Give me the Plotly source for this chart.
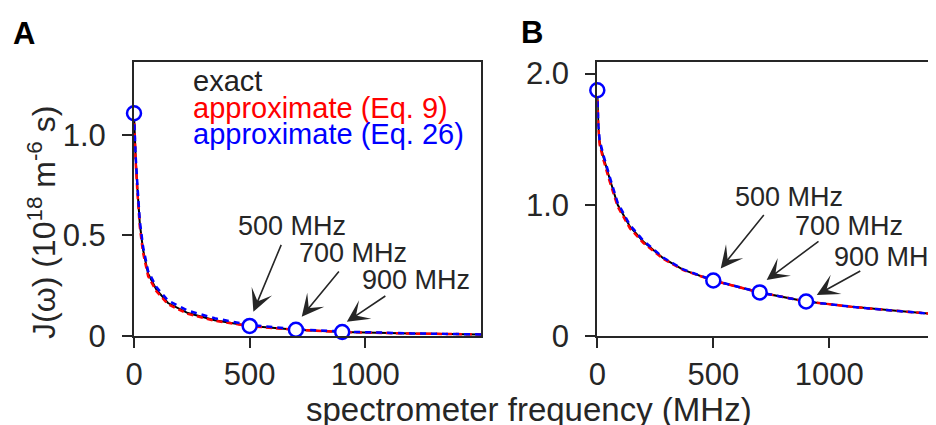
import plotly.graph_objects as go
from plotly.subplots import make_subplots

# ---- data ----
freq_a = [0, 3, 7, 15, 25, 39, 61, 97, 147, 233, 349, 500, 700, 900, 1200, 1500]
exact_a = [1.108, 0.98, 0.89, 0.73, 0.56, 0.43, 0.31, 0.23, 0.164, 0.114, 0.078, 0.05, 0.031, 0.02, 0.012, 0.008]
eq9_a = [1.108, 0.97, 0.87, 0.71, 0.545, 0.415, 0.298, 0.222, 0.158, 0.11, 0.076, 0.049, 0.031, 0.02, 0.012, 0.008]
eq26_a = [1.108, 0.99, 0.90, 0.745, 0.575, 0.445, 0.323, 0.243, 0.176, 0.126, 0.088, 0.055, 0.034, 0.022, 0.013, 0.008]

freq_b = [0, 2, 4.5, 10, 26, 55, 88, 141, 198, 284, 371, 500, 700, 900, 1100, 1300, 1460]
exact_b = [1.873, 1.70, 1.594, 1.48, 1.366, 1.189, 1.0, 0.833, 0.72, 0.593, 0.504, 0.423, 0.332, 0.263, 0.222, 0.19, 0.167]
eq9_b = [1.873, 1.68, 1.575, 1.46, 1.345, 1.168, 0.985, 0.82, 0.71, 0.588, 0.502, 0.422, 0.332, 0.263, 0.222, 0.19, 0.167]
eq26_b = [1.873, 1.71, 1.605, 1.495, 1.38, 1.205, 1.015, 0.845, 0.728, 0.598, 0.507, 0.424, 0.332, 0.263, 0.222, 0.19, 0.167]

mark_freq = [0, 500, 700, 900]
mark_a = [1.108, 0.05, 0.031, 0.02]
mark_b = [1.873, 0.423, 0.332, 0.263]

labels = ["500 MHz", "700 MHz", "900 MHz"]
# text centres, arrow tails and tips (data units)
txt_a = [(683, 0.547), (947, 0.413), (1219, 0.279)]
tail_a = [(639, 0.461), (891, 0.328), (1093, 0.204)]
tip_a = [(516, 0.121), (725, 0.096), (920, 0.071)]
txt_b = [(826, 1.057), (1085, 0.837), (1253, 0.603)]
tail_b = [(723, 0.933), (960, 0.730), (1140, 0.502)]
tip_b = [(532, 0.515), (730, 0.426), (946, 0.312)]

legend_items = ["exact", "approximate (Eq. 9)", "approximate (Eq. 26)"]
legend_colors = ["#222222", "#ff0000", "#0000ff"]

xticks = [0, 500, 1000]
xticklabels = ["0", "500", "1000"]
yticks_a = [0, 0.5, 1.0]
yticklabels_a = ["0", "0.5", "1.0"]
yticks_b = [0, 1.0, 2.0]
yticklabels_b = ["0", "1.0", "2.0"]

FONT = "Liberation Sans, Arial, sans-serif"
AX = "#262626"

# page body has an 8 px margin: work in viewport pixels, shift into figure pixels
OFF = 8
W, H = 936 - OFF, 425 - OFF
L = 134 - OFF
T = 62 - OFF
BOT = 336 - OFF
B = H - BOT
PW = W - L
PH = H - T - B

fig = make_subplots(rows=1, cols=2)
for col, fr, ex, e9, e26, my in [(1, freq_a, exact_a, eq9_a, eq26_a, mark_a),
                                  (2, freq_b, exact_b, eq9_b, eq26_b, mark_b)]:
    fig.add_trace(go.Scatter(x=fr, y=ex, mode="lines", line=dict(color="black", width=2),
                             showlegend=False), row=1, col=col)
    fig.add_trace(go.Scatter(x=fr, y=e9, mode="lines",
                             line=dict(color="#ff0000", width=2.5, dash="6px,4px"),
                             showlegend=False), row=1, col=col)
    fig.add_trace(go.Scatter(x=fr, y=e26, mode="lines",
                             line=dict(color="#0000ff", width=2.5, dash="6px,5px"),
                             showlegend=False), row=1, col=col)
    fig.add_trace(go.Scatter(x=mark_freq, y=my, mode="markers",
                             marker=dict(symbol="circle", size=14, color="white",
                                         line=dict(color="#0000ff", width=2.5)),
                             cliponaxis=False, showlegend=False), row=1, col=col)

axis_common = dict(showline=True, linecolor=AX, linewidth=2, ticks="outside", ticklen=10,
                   tickwidth=2, tickcolor=AX, showgrid=False, zeroline=False,
                   tickfont=dict(family=FONT, size=31, color=AX))
fig.update_xaxes(**axis_common, tickvals=xticks, ticktext=xticklabels, mirror=True)
fig.update_xaxes(range=[0, 1500], domain=[0, (481 - OFF - L) / PW], row=1, col=1)
fig.update_xaxes(range=[0, 1460], domain=[(597.3 - OFF - L) / PW, 1], row=1, col=2)
fig.update_yaxes(**axis_common, ticklabelstandoff=10)
fig.update_yaxes(range=[0, 1.363], tickvals=yticks_a, ticktext=yticklabels_a, mirror=True,
                 row=1, col=1)
fig.update_yaxes(range=[0, 2.088], tickvals=yticks_b, ticktext=yticklabels_b, mirror=False,
                 row=1, col=2)

ann = []
for xr, yr, txt, tail, tip in [("x", "y", txt_a, tail_a, tip_a), ("x2", "y2", txt_b, tail_b, tip_b)]:
    for lab, (tx, ty), (ax_, ay_), (px, py) in zip(labels, txt, tail, tip):
        ann.append(dict(x=tx, y=ty, xref=xr, yref=yr, text=lab, showarrow=False,
                        xanchor="center", yanchor="middle",
                        font=dict(family=FONT, size=27, color=AX)))
        ann.append(dict(x=px, y=py, xref=xr, yref=yr, ax=ax_, ay=ay_, axref=xr, ayref=yr,
                        text="", showarrow=True, arrowhead=3, arrowsize=2.3, arrowwidth=1.6,
                        arrowcolor=AX, standoff=0, startstandoff=0))


def vx(p):
    """viewport x pixel -> paper x"""
    return (p - OFF - L) / PW


def vy(p):
    """viewport y pixel -> paper y"""
    return (BOT - (p - OFF)) / PH


for i, (t, c) in enumerate(zip(legend_items, legend_colors)):
    ann.append(dict(x=vx(191), y=vy(81 + 26.5 * i), xref="paper", yref="paper",
                    xanchor="left", yanchor="middle", text=t, showarrow=False,
                    font=dict(family=FONT, size=29, color=c)))

ann.append(dict(x=vx(24), y=vy(34), xref="paper", yref="paper", text="<b>A</b>",
                xanchor="center", yanchor="middle",
                showarrow=False, font=dict(family=FONT, size=31, color="black")))
ann.append(dict(x=vx(532), y=vy(32), xref="paper", yref="paper", text="<b>B</b>",
                xanchor="center", yanchor="middle",
                showarrow=False, font=dict(family=FONT, size=31, color="black")))
ann.append(dict(x=vx(529), y=vy(409), xref="paper", yref="paper",
                xanchor="center", yanchor="middle",
                text="spectrometer frequency (MHz)", showarrow=False,
                font=dict(family=FONT, size=33, color=AX)))
ann.append(dict(x=vx(42), y=vy(223), xref="paper", yref="paper",
                xanchor="center", yanchor="middle",
                text="J(ω) (10<sup>18</sup> m<sup>-6</sup> s)", textangle=-90, showarrow=False,
                font=dict(family=FONT, size=32, color=AX)))

fig.update_layout(width=W, height=H, margin=dict(l=L, r=0, t=T, b=B),
                  plot_bgcolor="white", paper_bgcolor="white", annotations=ann,
                  showlegend=False)
fig.write_html("out.html")
